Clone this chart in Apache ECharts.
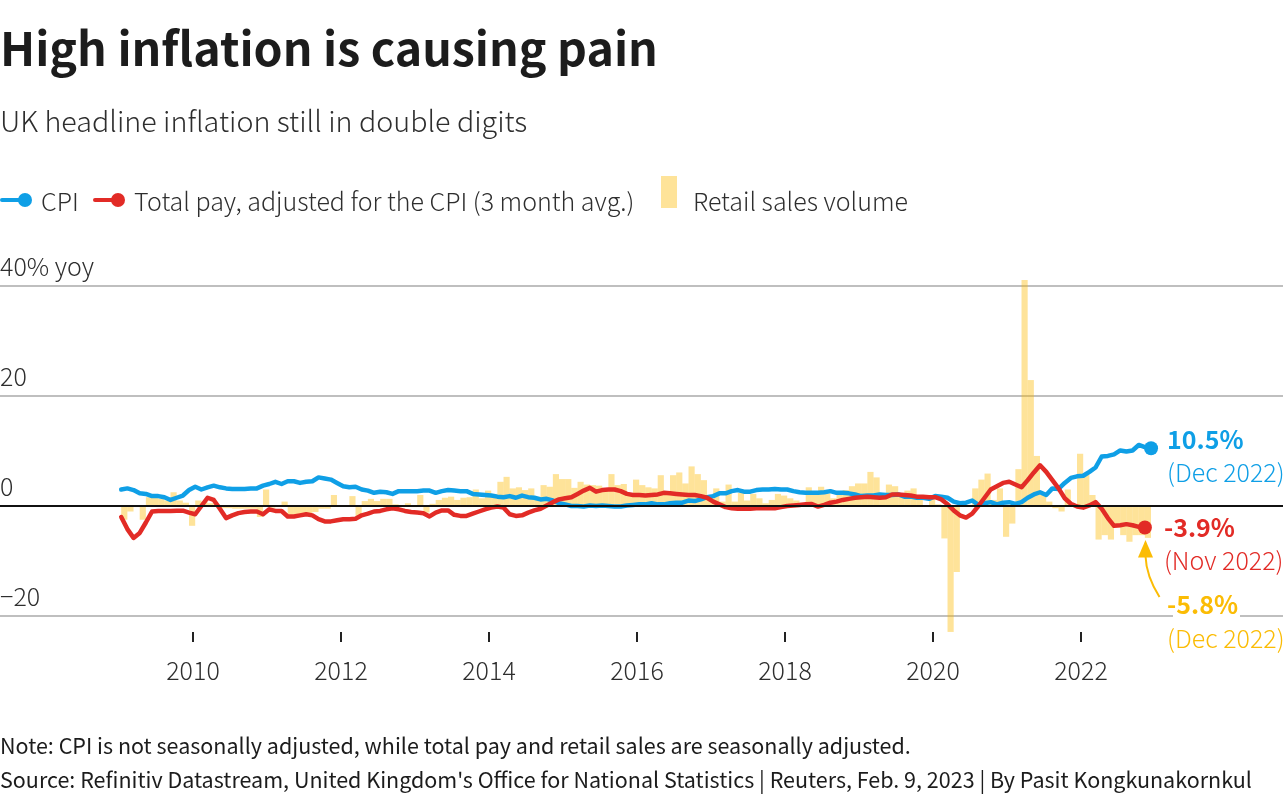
<!DOCTYPE html>
<html>
<head>
<meta charset="UTF-8">
<title>High inflation is causing pain</title>
<script src="https://cdn.jsdelivr.net/npm/echarts@6/dist/echarts.min.js"></script>
<style>
  html, body { margin: 0; padding: 0; background: #fff; }
  #main { width: 1288px; height: 800px; }
</style>
</head>
<body>
<div id="main"></div>
<script>
// monthly, Jan 2009 .. Dec 2022
const cpi = [
  3.0, 3.2, 2.9, 2.3, 2.2, 1.8, 1.8, 1.6, 1.1, 1.5, 1.9, 2.9,
  3.5, 3.0, 3.4, 3.7, 3.4, 3.2, 3.1, 3.1, 3.1, 3.2, 3.2, 3.7,
  4.0, 4.4, 4.0, 4.5, 4.5, 4.2, 4.4, 4.5, 5.2, 5.0, 4.8, 4.2,
  3.6, 3.4, 3.5, 3.0, 2.8, 2.4, 2.6, 2.5, 2.2, 2.7, 2.7, 2.7,
  2.7, 2.8, 2.8, 2.4, 2.7, 2.9, 2.8, 2.7, 2.7, 2.2, 2.1, 2.0,
  1.9, 1.7, 1.6, 1.8, 1.5, 1.9, 1.6, 1.5, 1.2, 1.3, 1.0, 0.5,
  0.3, 0.0, 0.0, -0.1, 0.1, 0.0, 0.1, 0.0, -0.1, -0.1, 0.1, 0.2,
  0.3, 0.3, 0.5, 0.3, 0.3, 0.5, 0.6, 0.6, 1.0, 0.9, 1.2, 1.6,
  1.8, 2.3, 2.3, 2.7, 2.9, 2.6, 2.6, 2.9, 3.0, 3.0, 3.1, 3.0,
  3.0, 2.7, 2.5, 2.4, 2.4, 2.4, 2.5, 2.7, 2.4, 2.4, 2.3, 2.1,
  1.8, 1.9, 1.9, 2.1, 2.0, 2.0, 2.1, 1.7, 1.7, 1.5, 1.5, 1.3,
  1.8, 1.7, 1.5, 0.8, 0.5, 0.6, 1.0, 0.2, 0.5, 0.7, 0.3, 0.6,
  0.7, 0.4, 0.7, 1.5, 2.1, 2.5, 2.0, 3.2, 3.1, 4.2, 5.1, 5.4,
  5.5, 6.2, 7.0, 9.0, 9.1, 9.4, 10.1, 9.9, 10.1, 11.1, 10.7, 10.5
];
const pay = [
  -2.0, -4.2, -5.8, -4.9, -3.0, -1.0, -0.9, -0.9, -0.9, -0.85, -0.85, -1.2,
  -1.5, 0.0, 1.5, 1.1, -0.5, -2.2, -1.7, -1.3, -1.1, -1.0, -1.0, -1.5,
  -0.6, -0.9, -0.9, -1.9, -1.9, -1.7, -1.5, -1.7, -2.4, -2.8, -2.8, -2.6,
  -2.4, -2.4, -2.3, -1.7, -1.4, -1.0, -0.9, -0.6, -0.4, -0.6, -0.9, -1.1,
  -1.2, -1.3, -1.9, -1.2, -0.8, -0.8, -1.6, -1.8, -1.8, -1.4, -1.0, -0.6,
  -0.3, -0.1, -0.3, -1.5, -1.8, -1.7, -1.2, -0.8, -0.5, 0.1, 0.7, 1.2,
  1.4, 1.6, 2.2, 2.8, 3.3, 2.6, 2.9, 3.0, 3.0, 2.7, 2.2, 2.0,
  2.0, 1.9, 2.0, 2.1, 2.4, 2.3, 2.2, 2.1, 2.0, 2.0, 1.8, 1.5,
  0.8, 0.3, -0.2, -0.4, -0.5, -0.5, -0.5, -0.4, -0.4, -0.4, -0.4, -0.2,
  0.0, 0.1, 0.2, 0.3, 0.35, -0.1, 0.2, 0.6, 0.8, 1.1, 1.3, 1.5,
  1.6, 1.7, 1.6, 1.5, 1.6, 2.1, 2.1, 2.0, 1.9, 1.7, 1.7, 1.6,
  1.6, 1.2, 0.3, -0.8, -1.7, -2.1, -1.4, 0.0, 1.5, 3.0, 3.6, 4.2,
  4.4, 3.9, 3.4, 4.7, 6.1, 7.4, 6.2, 4.7, 3.2, 1.4, 0.4, -0.1,
  -0.3, 0.1, 0.7, -0.5, -2.2, -3.6, -3.5, -3.3, -3.5, -3.8, -3.9, null
];
const retail = [
  null, -2.5, -1.0, -0.2, -2.5, 1.6, 1.5, 1.3, 1.0, 2.5, 1.0, 0.6,
  -3.6, 1.0, 0.8, 0.5, 0.3, -0.4, -0.4, -0.5, -0.5, -0.5, -0.5, -2.0,
  3.0, -0.3, -0.2, 0.8, -1.6, -1.5, -1.5, -1.3, -1.1, -0.5, -0.5, 2.0,
  0.1, 0.0, 1.8, -1.9, 0.9, 1.3, 0.9, 1.3, 1.3, 0.3, -0.2, 0.5,
  -0.2, 2.0, -1.2, 0.4, 1.1, 1.5, 1.7, 1.1, 1.5, 1.6, 3.0, 1.4,
  2.8, 2.2, 4.4, 5.3, 3.2, 3.4, 2.9, 3.2, 1.7, 3.8, 3.5, 5.8,
  4.9, 4.9, 3.3, 4.4, 3.9, 3.8, 3.7, 2.9, 5.8, 3.8, 4.0, 2.0,
  4.8, 3.8, 3.4, 3.2, 5.6, 2.6, 5.6, 6.1, 4.1, 7.2, 5.8, 4.7,
  2.0, 3.2, 0.8, 3.9, 0.8, 2.4, 1.0, 2.2, 1.4, 0.5, 1.1, 2.2,
  1.9, 1.4, 1.0, 0.6, 3.4, 2.3, 3.5, 2.3, 1.4, 2.3, 2.9, 3.6,
  4.1, 4.1, 6.2, 5.2, 2.3, 3.9, 3.6, 2.3, 2.8, 3.2, 1.2, 0.0,
  1.2, 0.3, -5.9, -22.9, -12.0, 0.2, 0.2, 3.2, 4.8, 5.9, 1.1, 3.2,
  -5.6, -3.2, 6.7, 41.1, 22.9, 9.1, 2.0, 0.8, -0.4, -1.0, 3.0, 0.1,
  9.5, 5.9, 2.0, -6.1, -5.3, -6.1, -3.9, -5.3, -6.5, -5.3, -5.3, -5.8
];
const tickYears = [2010, 2012, 2014, 2016, 2018, 2020, 2022];
const yTicks = [-20, 0, 20, 40];

const BLUE = '#0f9fe6', RED = '#e22b26', GOLD = '#fbbc05', BAR = 'rgba(252,185,0,0.4)';
const FONT = '"Noto Sans CJK SC", "Noto Sans", sans-serif';
const INK = '#1c1c1c', TEXT = '#2e2e2e';

// x axis is in years, 74px per year
const lineX = i => 2009 + i / 12 + 0.03;
const barX = i => 2009 + i / 12 - 0.012;
const pairs = (arr, xf) => arr.map((v, i) => [xf(i), v]);

function text(x, y, str, size, color, weight) {
  return {
    type: 'text', x: x, y: y, silent: true,
    style: { text: str, fill: color, font: (weight || 'normal') + ' ' + size + 'px ' + FONT, textVerticalAlign: 'middle' }
  };
}
function legendLine(x, color) {
  return [
    { type: 'line', silent: true, shape: { x1: x + 2, y1: 200, x2: x + 24, y2: 200 }, style: { stroke: color, lineWidth: 4, lineCap: 'round' } },
    { type: 'circle', silent: true, shape: { cx: x + 25, cy: 200, r: 7 }, style: { fill: color } }
  ];
}

const myChart = echarts.init(document.getElementById('main'));
myChart.setOption({
  animation: false,
  backgroundColor: '#fff',
  grid: { left: 0, width: 1283, top: 286, height: 330, outerBoundsMode: 'none' },
  xAxis: {
    type: 'value',
    min: 2010 - 193 / 74,
    max: 2010 + 1090 / 74,
    offset: 16,
    splitLine: { show: false },
    axisLine: { show: false, onZero: false },
    axisTick: { show: true, length: 10, lineStyle: { color: '#222', width: 2 }, customValues: tickYears },
    axisLabel: { customValues: tickYears, margin: 26, fontSize: 25, fontWeight: 300, color: TEXT, fontFamily: FONT, formatter: v => String(v) }
  },
  yAxis: {
    type: 'value',
    min: -20,
    max: 40,
    interval: 20,
    axisLine: { show: false },
    axisTick: { show: false },
    splitLine: { lineStyle: { color: '#aaaaaa', width: 1.5 } },
    axisLabel: {
      inside: true, margin: 0, fontSize: 25, fontWeight: 300, color: TEXT, fontFamily: FONT, verticalAlign: 'bottom', padding: [0, 0, 7, 0],
      customValues: yTicks,
      formatter: v => v === 40 ? '40% yoy' : (v < 0 ? '\u2212' + Math.abs(v) : String(v))
    }
  },
  series: [
    {
      name: 'Retail sales volume', type: 'bar', z: 2, clip: false, barWidth: 6.17,
      itemStyle: { color: BAR },
      data: pairs(retail, barX),
      markLine: {
        silent: true, symbol: 'none', label: { show: false },
        lineStyle: { color: '#111', width: 2, type: 'solid' },
        data: [{ yAxis: 0 }]
      }
    },
    {
      name: 'CPI', type: 'line', z: 3, showSymbol: false, smooth: false,
      lineStyle: { color: BLUE, width: 4.5, cap: 'round', join: 'round' },
      data: pairs(cpi, lineX)
    },
    {
      name: 'Total pay, adjusted for the CPI (3 month avg.)', type: 'line', z: 4, showSymbol: false, smooth: false, connectNulls: false,
      lineStyle: { color: RED, width: 4.5, cap: 'round', join: 'round' },
      data: pairs(pay, lineX)
    },
    {
      type: 'scatter', z: 5, symbolSize: 14, clip: false, silent: true,
      itemStyle: { color: BLUE, opacity: 1 },
      data: [[lineX(cpi.length - 1), cpi[cpi.length - 1]]],
      label: {
        show: true, position: 'right', distance: 10, align: 'left',
        formatter: '{a|10.5%}\n{b|(Dec 2022)}',
        rich: {
          a: { fontFamily: FONT, fontSize: 25, fontWeight: 'bold', color: BLUE, lineHeight: 33 },
          b: { fontFamily: FONT, fontSize: 25, fontWeight: 300, color: BLUE, lineHeight: 33 }
        },
        offset: [-1, 8]
      }
    },
    {
      type: 'scatter', z: 6, symbolSize: 14, clip: false, silent: true,
      itemStyle: { color: RED, opacity: 1 },
      data: [[lineX(pay.length - 2), pay[pay.length - 2]]],
      label: {
        show: true, position: 'right', distance: 10, align: 'left',
        formatter: '{a|-3.9%}\n{b|(Nov 2022)}',
        rich: {
          a: { fontFamily: FONT, fontSize: 25, fontWeight: 'bold', color: RED, lineHeight: 33 },
          b: { fontFamily: FONT, fontSize: 25, fontWeight: 300, color: RED, lineHeight: 33 }
        },
        offset: [2, 17]
      }
    }
  ],
  graphic: [
    text(0, 48, 'High inflation is causing pain', 46.5, INK, 'bold'),
    text(0, 121, 'UK headline inflation still in double digits', 28.7, TEXT, '300'),

    ...legendLine(0, BLUE),
    text(41, 201, 'CPI', 25, TEXT, '300'),
    ...legendLine(93, RED),
    text(134, 201, 'Total pay, adjusted for the CPI (3 month avg.)', 25, TEXT, '300'),
    { type: 'rect', silent: true, shape: { x: 661, y: 176, width: 16, height: 32 }, style: { fill: BAR } },
    text(693, 201, 'Retail sales volume', 25, TEXT, '300'),

    // retail sales callout
    { type: 'rect', silent: true, z: 5, shape: { x: 1173, y: 606, width: 67, height: 20 }, style: { fill: '#fff' } },
    { type: 'bezierCurve', silent: true, shape: { x1: 1159.5, y1: 597, cpx1: 1150, cpy1: 582, cpx2: 1146, cpy2: 570, x2: 1145.5, y2: 556 }, style: { stroke: GOLD, lineWidth: 2, fill: 'none' } },
    { type: 'polygon', silent: true, shape: { points: [[1145.5, 540], [1153, 557.5], [1138, 557.5]] }, style: { fill: GOLD } },
    Object.assign(text(1167, 604, '-5.8%', 25, GOLD, 'bold'), { z: 6 }),
    Object.assign(text(1167, 638, '(Dec 2022)', 25, GOLD, '300'), { z: 6 }),

    text(0, 746, 'Note: CPI is not seasonally adjusted, while total pay and retail sales are seasonally adjusted.', 21.5, INK),
    text(0, 780, "Source: Refinitiv Datastream, United Kingdom's Office for National Statistics | Reuters, Feb. 9, 2023 | By Pasit Kongkunakornkul", 21.5, INK)
  ]
});
</script>
</body>
</html>
